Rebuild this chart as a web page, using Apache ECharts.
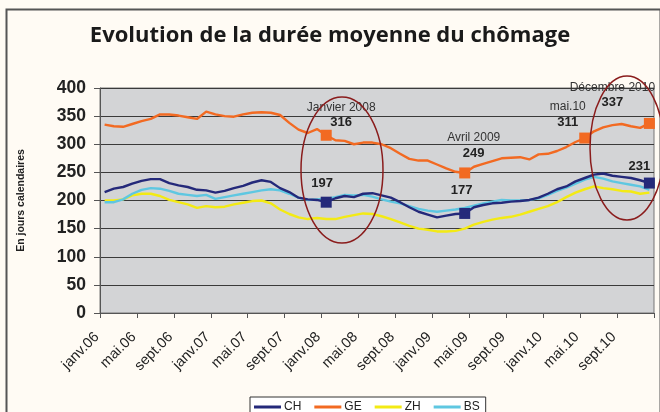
<!DOCTYPE html>
<html>
<head>
<meta charset="utf-8">
<script src="https://cdn.jsdelivr.net/npm/echarts@6/dist/echarts.min.js"></script>
<style>
  html, body { margin: 0; padding: 0; background: #fffbf4; }
  #chart { width: 660px; height: 412px; }
</style>
</head>
<body>
<div id="chart"></div>
<script>
// mois et années de l'axe x
const moisNoms = ['janv.', 'févr.', 'mars.', 'avr.', 'mai.', 'juin.', 'juil.', 'août.', 'sept.', 'oct.', 'nov.', 'déc.'];
const annees = ['06', '07', '08', '09', '10'];

// durée moyenne du chômage (en jours calendaires), janv.06 -> déc.10
const ch = [215, 221, 224, 230, 235, 238, 238, 231, 227, 224, 219, 218,
  214, 217, 222, 226, 232, 236, 233, 222, 215, 205, 202, 201,
  197, 204, 208, 206, 212, 213, 209, 205, 197, 188, 180, 175,
  170, 173, 176, 177, 188, 192, 195, 196, 198, 199, 201, 205,
  212, 220, 225, 234, 240, 246, 248, 244, 242, 240, 236, 231];
const ge = [335, 332, 331, 336, 341, 345, 353, 353, 351, 348, 345, 358,
  353, 350, 349, 353, 356, 357, 356, 352, 338, 326, 320, 327,
  316, 307, 306, 300, 303, 303, 300, 293, 283, 274, 271, 271,
  264, 257, 251, 249, 260, 265, 270, 275, 276, 277, 273, 282,
  283, 288, 295, 304, 311, 323, 330, 334, 336, 332, 329, 337];
const zh = [200, 200, 202, 209, 212, 212, 208, 201, 197, 193, 187, 190,
  188, 189, 193, 196, 199, 200, 195, 184, 176, 170, 167, 169,
  167, 167, 171, 174, 177, 176, 172, 167, 161, 155, 150, 148,
  145, 145, 146, 150, 157, 162, 166, 169, 171, 175, 180, 185,
  190, 197, 206, 214, 220, 225, 222, 220, 217, 216, 212, 214];
const bs = [197, 197, 202, 212, 219, 222, 221, 217, 212, 210, 208, 210,
  203, 206, 209, 212, 215, 218, 220, 218, 212, 205, 201, 202,
  203, 206, 210, 209, 210, 207, 202, 198, 195, 190, 185, 182,
  180, 182, 184, 187, 191, 195, 198, 201, 200, 200, 201, 204,
  210, 217, 223, 230, 237, 242, 239, 234, 231, 228, 225, 219];

// points annotés
const geNotes = [[24, 'Janvier 2008'], [39, 'Avril 2009'], [52, 'mai.10'], [59, 'Décembre 2010']];
const chNotes = [24, 39, 59];

const categories = [];
annees.forEach(a => moisNoms.forEach(m => categories.push(m + a)));

const couleurs = {CH: '#24297a', GE: '#f26a22', ZH: '#f3ea14', BS: '#5ec7e1'};
const police = '"Liberation Sans", Arial, sans-serif';

// décalages des étiquettes (pixels)
const geOffsets = [[15, 0], [9, -7], [-17, -3], [-37, -8]];
const chOffsets = [[-4, -7], [-3, -11], [-10, -5]];

let myChart = echarts.init(document.getElementById('chart'));

const serie = (nom, data) => ({
  name: nom,
  type: 'line',
  data: data,
  showSymbol: false,
  smooth: false,
  lineStyle: {color: couleurs[nom], width: 2.4},
  itemStyle: {color: couleurs[nom]},
  animation: false,
  z: 3
});

const sCH = serie('CH', ch);
sCH.z = 5;
sCH.markPoint = {
  symbol: 'rect',
  symbolSize: 11,
  itemStyle: {color: couleurs.CH},
  data: chNotes.map((i, k) => ({
    coord: [categories[i], ch[i]],
    value: ch[i],
    label: {
      show: true,
      position: 'top',
      distance: 0,
      offset: chOffsets[k],
      color: '#222',
      fontFamily: police,
      fontWeight: 'bold',
      fontSize: 13,
      formatter: String(ch[i])
    }
  }))
};

const sGE = serie('GE', ge);
sGE.z = 4;
sGE.markPoint = {
  symbol: 'rect',
  symbolSize: 11,
  itemStyle: {color: couleurs.GE},
  data: geNotes.map((n, k) => ({
    coord: [categories[n[0]], ge[n[0]]],
    value: ge[n[0]],
    label: {
      show: true,
      position: 'top',
      distance: 0,
      offset: geOffsets[k],
      formatter: '{t|' + n[1] + '}\n{v|' + ge[n[0]] + '}',
      rich: {
        t: {fontFamily: police, fontSize: 12, color: '#333', lineHeight: 15, align: 'center'},
        v: {fontFamily: police, fontSize: 13, fontWeight: 'bold', color: '#222', lineHeight: 15, align: 'center'}
      }
    }
  }))
};

myChart.setOption({
  backgroundColor: '#fffbf4',
  animation: false,
  title: {
    text: 'Evolution de la durée moyenne du chômage',
    left: 'center',
    top: 20,
    textStyle: {fontFamily: '"Open Sans", sans-serif', fontWeight: 'bold', fontSize: 22, color: '#1a1a1a'}
  },
  legend: {
    data: ['CH', 'GE', 'ZH', 'BS'],
    left: 250,
    top: 397,
    icon: 'rect',
    itemWidth: 27,
    itemHeight: 3,
    itemGap: 13,
    padding: [4, 6, 8, 4],
    borderColor: '#333',
    borderWidth: 1,
    backgroundColor: '#ffffff',
    textStyle: {fontFamily: police, fontSize: 12, color: '#222', padding: [0, 0, 0, -2]}
  },
  grid: {
    left: 100,
    right: 6,
    top: 88,
    bottom: 99,
    show: true,
    backgroundColor: '#d3d4d6',
    borderColor: '#777',
    borderWidth: 1
  },
  xAxis: {
    type: 'category',
    data: categories,
    boundaryGap: true,
    axisLine: {lineStyle: {color: '#555', width: 1}},
    axisTick: {show: true, interval: 3, length: 5, lineStyle: {color: '#555'}},
    axisLabel: {
      interval: 3,
      rotate: 45,
      margin: 14,
      padding: [0, 11, 0, 0],
      fontFamily: police,
      fontSize: 14.5,
      color: '#222'
    },
    splitLine: {show: false}
  },
  yAxis: {
    type: 'value',
    min: 0,
    max: 400,
    interval: 50,
    name: 'En jours calendaires',
    nameLocation: 'middle',
    nameGap: 73,
    nameRotate: 90,
    nameTextStyle: {fontFamily: police, fontWeight: 'bold', fontSize: 10.5, color: '#222'},
    axisLine: {show: true, lineStyle: {color: '#555', width: 1}},
    axisTick: {show: true, inside: false, length: 6, lineStyle: {color: '#555'}},
    axisLabel: {fontFamily: police, fontWeight: 'bold', fontSize: 17.5, color: '#222', margin: 14},
    splitLine: {lineStyle: {color: '#3a3a3a', width: 1}}
  },
  series: [sCH, sGE, serie('ZH', zh), serie('BS', bs)],
  graphic: [
    // cadre extérieur
    {type: 'rect', left: 4, top: 7, z: 100, silent: true,
      shape: {width: 654, height: 420},
      style: {fill: 'none', stroke: '#555', lineWidth: 2}},
    // ellipses d'annotation
    {type: 'ellipse', z: 100, silent: true,
      shape: {cx: 342, cy: 170, rx: 41, ry: 73},
      style: {fill: 'none', stroke: '#8a1c1c', lineWidth: 1.5}},
    {type: 'ellipse', z: 100, silent: true,
      shape: {cx: 627, cy: 148, rx: 37, ry: 72},
      style: {fill: 'none', stroke: '#8a1c1c', lineWidth: 1.5}}
  ]
});
</script>
</body>
</html>
